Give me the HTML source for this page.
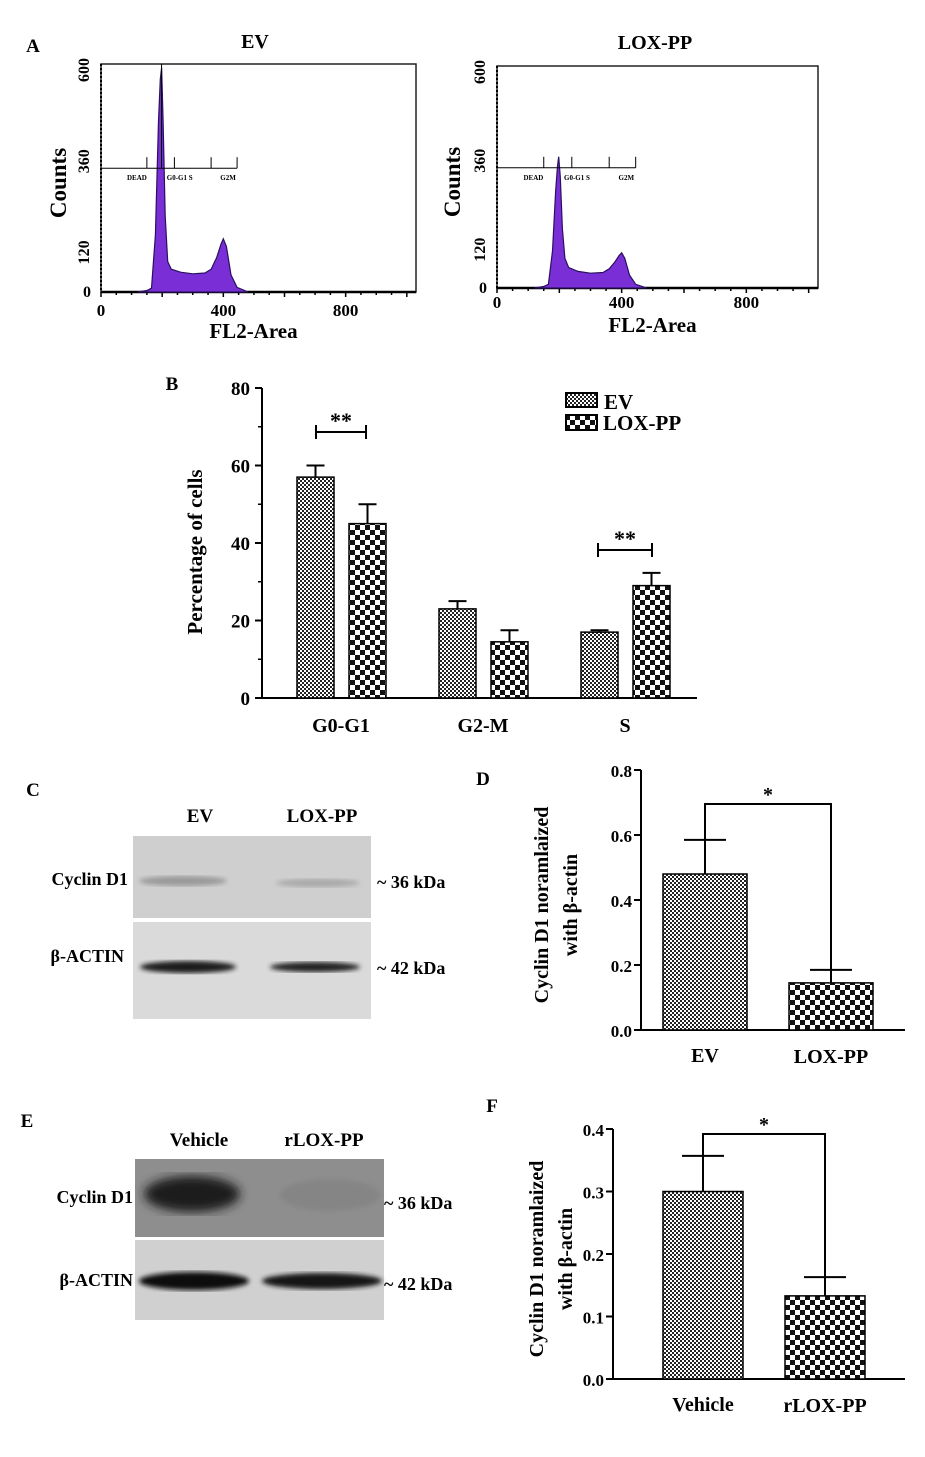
<!DOCTYPE html>
<html><head><meta charset="utf-8"><style>
html,body{margin:0;padding:0;background:#fff}
svg{display:block}
text{font-family:"Liberation Serif",serif;font-weight:bold;fill:#000}
</style></head><body>
<svg id="fig" xmlns="http://www.w3.org/2000/svg" width="925" height="1457" viewBox="0 0 925 1457">
<defs>
<pattern id="pEV" width="4" height="4" patternUnits="userSpaceOnUse"><rect width="4" height="4" fill="#fff"/><rect width="2" height="2" fill="#222"/><rect x="2" y="2" width="2" height="2" fill="#222"/></pattern>
<pattern id="pLOX" width="10" height="10" patternUnits="userSpaceOnUse"><rect width="10" height="10" fill="#fff"/><rect width="5" height="5" fill="#111"/><rect x="5" y="5" width="5" height="5" fill="#111"/></pattern>
<filter id="blur2"><feGaussianBlur stdDeviation="2.5"/></filter>
<filter id="blur4"><feGaussianBlur stdDeviation="5"/></filter>
</defs>
<g id="root"></g>
</svg>
<script>
// ---------- data ----------
const histX = [120,150,165,178,188,194,198,203,210,218,230,260,300,340,360,378,392,400,410,425,445,470,480];
const histEV = [0,4,10,150,450,560,590,450,200,80,60,52,48,50,60,90,125,140,120,45,12,4,0];
const histLOX = [0,4,10,100,260,330,355,300,160,80,55,45,40,42,52,70,88,95,80,35,10,3,0];
const bCats = ["G0-G1","G2-M","S"];
const bEV = [57,23,17];
const bEVerr = [3,2,0.5];
const bLOX = [45,14.5,29];
const bLOXerr = [5,3,3.3];
const bTicks = [0,20,40,60,80];
const dCats = ["EV","LOX-PP"];
const dVals = [0.48,0.145];
const dErr = [0.105,0.04];
const dTicks = ["0.0","0.2","0.4","0.6","0.8"];
const fCats = ["Vehicle","rLOX-PP"];
const fVals = [0.30,0.133];
const fErr = [0.057,0.03];
const fTicks = ["0.0","0.1","0.2","0.3","0.4"];

const NS="http://www.w3.org/2000/svg";
const root=document.getElementById('root');
function mk(tag,attrs,parent,txt){const e=document.createElementNS(NS,tag);for(const k in attrs)e.setAttribute(k,attrs[k]);if(txt!==undefined)e.textContent=txt;(parent||root).appendChild(e);return e;}
function T(x,y,s,size,anchor,rot){const a={x:x,y:y,'font-size':size,'text-anchor':anchor||'middle'};if(rot)a.transform='rotate(-90 '+x+' '+y+')';return mk('text',a,root,s);}

// ---------- Panel A histograms ----------
function hist(x0,x1,y0,yTop,vals,title,tx,ty,cx,name,yl,tl,peakLine){
  const sx=v=>x0+(v)*(x1-x0)/1030, sy=v=>y0-v*(y0-yTop)/600;
  const g=mk('g',{});
  
  
  mk('rect',{x:x0,y:yTop,width:x1-x0,height:y0-yTop,fill:'none',stroke:'#222','stroke-width':1.5},g);
  mk('line',{x1:x0,y1:yTop,x2:x0,y2:y0,stroke:'#000','stroke-width':2,'stroke-dasharray':'2 2'},g);
  mk('line',{x1:x0,y1:y0,x2:x1,y2:y0,stroke:'#000','stroke-width':2.5},g);
  for(let v=0;v<=1000;v+=50){mk('line',{x1:sx(v),y1:y0,x2:sx(v),y2:y0+(v%200==0?5:3),stroke:'#000','stroke-width':1.5},g);}
  let d='M'+sx(histX[0])+','+y0;
  histX.forEach((v,i)=>{d+=' L'+sx(v).toFixed(1)+','+sy(vals[i]).toFixed(1);});
  d+=' L'+sx(histX[histX.length-1])+','+y0+' Z';
  const p=mk('path',{d:d,fill:'#7a2fd6',stroke:'#2a1060','stroke-width':1.2},g);
  
  
  const gy=sy(360)+13;
  mk('line',{x1:x0,y1:gy,x2:sx(445),y2:gy,stroke:'#000','stroke-width':1},g);
  [150,240,360,445].forEach(v=>mk('line',{x1:sx(v),y1:gy-11,x2:sx(v),y2:gy,stroke:'#000','stroke-width':1},g));
  if(peakLine)mk('line',{x1:sx(198),y1:yTop,x2:sx(198),y2:gy,stroke:'#000','stroke-width':1},g);
  mk('text',{x:sx(85),y:gy+12,'font-size':7,'font-family':'Liberation Sans','font-weight':'normal'},g,'DEAD');
  mk('text',{x:sx(215),y:gy+12,'font-size':7,'font-family':'Liberation Sans','font-weight':'normal'},g,'G0-G1  S');
  mk('text',{x:sx(390),y:gy+12,'font-size':7,'font-family':'Liberation Sans','font-weight':'normal'},g,'G2M');
  T(tx,ty,title,20);
  [[600,'600'],[360,'360'],[120,'120']].forEach(t=>T(x0-12,sy(t[0])+6,t[1],16,'middle',true));
  T(x0-10,y0+5,'0',16,'end');
  [0,400,800].forEach(v=>T(sx(v),y0+tl,String(v),17));
  T(cx,(y0+yTop)/2+5,'Counts',23,'middle',true);
  T((x0+x1)/2-5,y0+yl,'FL2-Area',21);
}
T(33,52,'A',19);
hist(101,416,292,64,histEV,'EV',255,48,66,'histogram-ev',46,24,true);
hist(497,818,288,66,histLOX,'LOX-PP',655,49,460,'histogram-lox-pp',44,20,false);

// ---------- Panel B ----------
(function(){
  const ax=262, y0=698, yT=388, sy=v=>y0-v*(y0-yT)/80;
  const groups=[297,439,581], bw=37, gap=52;
  T(172,390,'B',19);
  mk('line',{x1:ax,y1:yT,x2:ax,y2:y0,stroke:'#000','stroke-width':2});
  mk('line',{x1:ax,y1:y0,x2:697,y2:y0,stroke:'#000','stroke-width':2});
  bTicks.forEach(t=>{mk('line',{x1:ax-7,y1:sy(t),x2:ax,y2:sy(t),stroke:'#000','stroke-width':2});T(ax-12,sy(t)+7,String(t),19,'end');});
  for(let t=10;t<80;t+=20)mk('line',{x1:ax-4,y1:sy(t),x2:ax,y2:sy(t),stroke:'#000','stroke-width':1.5});
  bCats.forEach((c,i)=>{
    const gx=groups[i];
    [[bEV,bEVerr,'url(#pEV)',0,'ev'],[bLOX,bLOXerr,'url(#pLOX)',gap,'lox-pp']].forEach(s=>{
      const x=gx+s[3], v=s[0][i], e=s[1][i];
      const r=mk('rect',{x:x,y:sy(v),width:bw,height:y0-sy(v),fill:s[2],stroke:'#000','stroke-width':1.5});
      
      
      const cx=x+bw/2;
      mk('line',{x1:cx,y1:sy(v),x2:cx,y2:sy(v+e),stroke:'#000','stroke-width':2});
      mk('line',{x1:cx-9,y1:sy(v+e),x2:cx+9,y2:sy(v+e),stroke:'#000','stroke-width':2});
    });
    T(gx+44,732,c,20);
  });
  [[316,366,432,'**'],[598,652,550,'**']].forEach(s=>{
    mk('line',{x1:s[0],y1:s[2],x2:s[1],y2:s[2],stroke:'#000','stroke-width':2});
    mk('line',{x1:s[0],y1:s[2]-7,x2:s[0],y2:s[2]+7,stroke:'#000','stroke-width':2});
    mk('line',{x1:s[1],y1:s[2]-7,x2:s[1],y2:s[2]+7,stroke:'#000','stroke-width':2});
    T((s[0]+s[1])/2,s[2]-4,s[3],22);
  });
  T(202,552,'Percentage of cells',21,'middle',true);
  const l1=mk('rect',{x:566,y:393,width:31,height:14,fill:'url(#pEV)',stroke:'#000','stroke-width':2});
  
  
  const l2=mk('rect',{x:566,y:415,width:31,height:15,fill:'url(#pLOX)',stroke:'#000','stroke-width':2});
  
  
  T(604,409,'EV',21,'start');T(603,430,'LOX-PP',21,'start');
})();

// ---------- Blots ----------
function blot(x,y1,h1,y2,h2,w,bg1,bg2,top,bot){
  mk('rect',{x:x,y:y1,width:w,height:h1,fill:bg1});
  mk('rect',{x:x,y:y2,width:w,height:h2,fill:bg2});
  top.forEach(b=>mk('ellipse',{cx:b[0],cy:b[1],rx:b[2],ry:b[3],fill:b[4],filter:b[5]||'url(#blur2)'}));
  bot.forEach(b=>mk('ellipse',{cx:b[0],cy:b[1],rx:b[2],ry:b[3],fill:b[4],filter:'url(#blur2)'}));
}
T(33,796,'C',19);
blot(133,836,82,922,97,238,'#cfcfcf','#dadada',
  [[183,881,44,5,'#9a9a9a'],[318,883,42,4,'#a8a8a8']],
  [[188,967,48,6,'#1a1a1a'],[315,967,45,5,'#222']]);
T(200,822,'EV',19);T(322,822,'LOX-PP',19);
T(128,885,'Cyclin D1',18,'end');T(124,962,'β-ACTIN',18,'end');
T(377,888,'~ 36 kDa',18,'start');T(377,974,'~ 42 kDa',18,'start');

T(27,1127,'E',19);
blot(135,1159,78,1240,80,249,'#8e8e8e','#d0d0d0',
  [[192,1194,48,18,'#1a1a1a','url(#blur4)'],[330,1195,50,16,'#858585']],
  [[194,1281,55,9,'#111'],[322,1281,60,8,'#151515']]);
T(199,1146,'Vehicle',19);T(324,1146,'rLOX-PP',19);
T(133,1203,'Cyclin D1',18,'end');T(133,1286,'β-ACTIN',18,'end');
T(384,1209,'~ 36 kDa',18,'start');T(384,1290,'~ 42 kDa',18,'start');

// ---------- Panels D & F ----------
function bars(letter,lx,ly,ax,y0,yT,max,x1,ticks,cats,vals,errs,bx,bw,brY,title,tx,pfx){
  const sy=v=>y0-v*(y0-yT)/max;
  T(lx,ly,letter,19);
  mk('line',{x1:ax,y1:yT,x2:ax,y2:y0,stroke:'#000','stroke-width':2});
  mk('line',{x1:ax,y1:y0,x2:x1,y2:y0,stroke:'#000','stroke-width':2});
  ticks.forEach((t,i)=>{const v=max*i/(ticks.length-1);mk('line',{x1:ax-7,y1:sy(v),x2:ax,y2:sy(v),stroke:'#000','stroke-width':2});T(ax-9,sy(v)+7,t,17,'end');});
  const fills=['url(#pEV)','url(#pLOX)'];
  const tops=[];
  cats.forEach((c,i)=>{
    const r=mk('rect',{x:bx[i],y:sy(vals[i]),width:bw,height:y0-sy(vals[i]),fill:fills[i],stroke:'#000','stroke-width':1.5});
    
    
    const cx=bx[i]+bw/2, ey=sy(vals[i]+errs[i]);
    mk('line',{x1:cx,y1:sy(vals[i]),x2:cx,y2:ey,stroke:'#000','stroke-width':2});
    mk('line',{x1:cx-21,y1:ey,x2:cx+21,y2:ey,stroke:'#000','stroke-width':2});
    tops.push([cx,ey]);
    T(cx,y0+(i?33:32),c,20);
  });
  mk('polyline',{points:tops[0][0]+','+tops[0][1]+' '+tops[0][0]+','+brY+' '+tops[1][0]+','+brY+' '+tops[1][0]+','+tops[1][1],fill:'none',stroke:'#000','stroke-width':2});
  T((tops[0][0]+tops[1][0])/2,brY-3,'*',20);
  const cy=(y0+yT)/2+5;
  T(tx,cy,title[0],20,'middle',true);T(tx+29,cy,title[1],20,'middle',true);
}
bars('D',483,785,641,1030,770,0.8,905,dTicks,dCats,dVals,dErr,[663,789],84,804,['Cyclin D1  noramlaized','with β-actin'],548,'d');
bars('F',492,1112,613,1379,1129,0.4,905,fTicks,fCats,fVals,fErr,[663,785],80,1134,['Cyclin D1  noramlaized','with β-actin'],543,'f');
</script>
</body></html>
